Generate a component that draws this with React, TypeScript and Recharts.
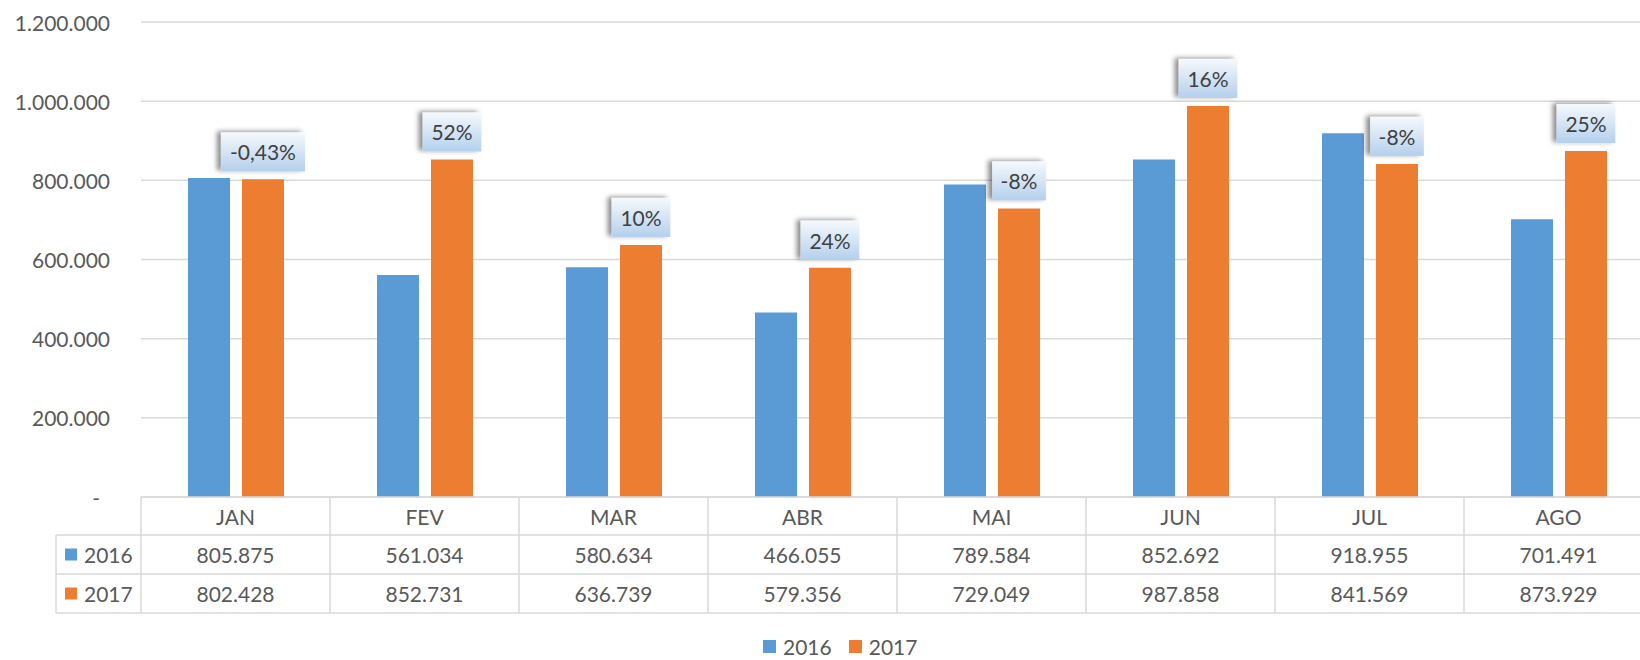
import { Bar, BarChart, CartesianGrid, LabelList, Legend, XAxis, YAxis } from "recharts"

const months = ["JAN", "FEV", "MAR", "ABR", "MAI", "JUN", "JUL", "AGO"]
const values2016 = [805875, 561034, 580634, 466055, 789584, 852692, 918955, 701491]
const values2017 = [802428, 852731, 636739, 579356, 729049, 987858, 841569, 873929]
const changeLabels = ["-0,43%", "52%", "10%", "24%", "-8%", "16%", "-8%", "25%"]
const yTicks = [0, 200000, 400000, 600000, 800000, 1000000, 1200000]

const data = months.map((m, i) => ({ name: m, y2016: values2016[i], y2017: values2017[i] }))

const BLUE = "#5b9bd5"
const ORANGE = "#ed7d31"
const TEXT = "#595959"
const LINE = "#d9d9d9"
const FONT = "Lato, 'Open Sans', sans-serif"
const FS = 21

const CHART_W = 1660
const CHART_H = 660
const MARGIN = { top: 22, right: 7, left: 0, bottom: 0 }
const Y_W = 141
const X_H = 116
const BAND = (CHART_W - MARGIN.right - MARGIN.left - Y_W) / months.length
const ROWS = [0, 38, 77, 116]
const HEADER_LEFT = 56

const fmt = (n: number) => n.toString().replace(/\B(?=(\d{3})+(?!\d))/g, ".")

// rough Calibri-like widths, used to size the callout boxes
const charW = (c: string) => (c === "%" ? 17.2 : c === "-" ? 7.3 : c === "," || c === "." ? 6 : 12.2)
const textW = (s: string) => s.split("").reduce((a, c) => a + charW(c), 0)

function YTick(props: any) {
  const { x, y, payload } = props
  const isZero = payload.value === 0
  return (
    <text
      x={isZero ? x - 10 : x}
      y={y}
      textAnchor="end"
      dominantBaseline="central"
      fontSize={FS}
      fontFamily={FONT}
      fill={TEXT}
    >
      {isZero ? "-" : fmt(payload.value)}
    </text>
  )
}

function TableTick(props: any) {
  const { x, y, payload } = props
  const i = payload.index
  const left = x - BAND / 2
  const right = x + BAND / 2
  const mid = (r: number) => y + (ROWS[r] + ROWS[r + 1]) / 2
  const txt = (tx: number, ty: number, s: string, anchor = "middle") => (
    <text
      x={tx}
      y={ty}
      textAnchor={anchor}
      dominantBaseline="central"
      fontSize={FS}
      fontFamily={FONT}
      fill={TEXT}
    >
      {s}
    </text>
  )
  return (
    <g>
      {ROWS.map((r) => (
        <line key={r} x1={left} x2={right} y1={y + r} y2={y + r} stroke={LINE} strokeWidth={1.5} />
      ))}
      <line x1={left} x2={left} y1={y} y2={y + X_H} stroke={LINE} strokeWidth={1.5} />
      {i === months.length - 1 && (
        <line x1={right} x2={right} y1={y} y2={y + X_H} stroke={LINE} strokeWidth={1.5} />
      )}
      {txt(x, mid(0), payload.value)}
      {txt(x, mid(1), fmt(values2016[i]))}
      {txt(x, mid(2), fmt(values2017[i]))}
      {i === 0 && (
        <g>
          {ROWS.slice(1).map((r) => (
            <line key={r} x1={HEADER_LEFT} x2={left} y1={y + r} y2={y + r} stroke={LINE} strokeWidth={1.5} />
          ))}
          <line x1={HEADER_LEFT} x2={HEADER_LEFT} y1={y + ROWS[1]} y2={y + X_H} stroke={LINE} strokeWidth={1.5} />
          <rect x={65} y={mid(1) - 6} width={12} height={12} fill={BLUE} />
          <rect x={65} y={mid(2) - 6} width={12} height={12} fill={ORANGE} />
          {txt(84, mid(1), "2016", "start")}
          {txt(84, mid(2), "2017", "start")}
        </g>
      )}
    </g>
  )
}

function ChangeLabel(props: any) {
  const { x, y, width, index } = props
  const s = changeLabels[index]
  const w = textW(s) + 17
  const h = 39
  const cx = x + width / 2
  const bottom = y - 8
  return (
    <g>
      <rect x={cx - w / 2} y={bottom - h} width={w} height={h} fill="url(#calloutFill)" filter="url(#calloutShadow)" />
      <text
        x={cx}
        y={bottom - h / 2}
        textAnchor="middle"
        dominantBaseline="central"
        fontSize={FS}
        fontFamily={FONT}
        fill="#404040"
      >
        {s}
      </text>
    </g>
  )
}

function LegendContent() {
  const item = (color: string, label: string, ml: number) => (
    <div style={{ display: "flex", alignItems: "center", marginLeft: ml }}>
      <div style={{ width: 13, height: 13, background: color, marginRight: 7 }} />
      <span style={{ fontSize: FS, fontFamily: FONT, color: TEXT }}>{label}</span>
    </div>
  )
  return (
    <div style={{ display: "flex", alignItems: "flex-end", height: 47, paddingBottom: 0, boxSizing: "border-box" }}>
      <div style={{ display: "flex", alignItems: "center", height: 28 }}>
        {item(BLUE, "2016", 763)}
        {item(ORANGE, "2017", 17)}
      </div>
    </div>
  )
}

export default function App() {
  return (
    <div style={{ position: "fixed", top: 0, left: 0, width: 1640, height: 660, overflow: "hidden", background: "#fff" }}>
      <BarChart width={CHART_W} height={CHART_H} data={data} margin={MARGIN} barSize={42} barGap={12}>
        <defs>
          <linearGradient id="calloutFill" x1="0" y1="0" x2="0" y2="1">
            <stop offset="0%" stopColor="#f5f9fd" />
            <stop offset="100%" stopColor="#b4d0ec" />
          </linearGradient>
          <filter id="calloutShadow" x="-30%" y="-30%" width="160%" height="160%">
            <feDropShadow dx={-4} dy={-1} stdDeviation={2.5} floodColor="#000" floodOpacity={0.45} />
          </filter>
        </defs>
        <CartesianGrid vertical={false} stroke={LINE} strokeWidth={1.5} />
        <YAxis
          width={Y_W}
          domain={[0, 1200000]}
          ticks={yTicks}
          axisLine={false}
          tickLine={false}
          tickSize={0}
          tickMargin={31}
          tick={<YTick />}
          interval={0}
        />
        <XAxis
          dataKey="name"
          height={X_H}
          axisLine={false}
          tickLine={false}
          tickSize={0}
          tickMargin={0}
          tick={<TableTick />}
          interval={0}
        />
        <Legend verticalAlign="bottom" height={47} content={<LegendContent />} wrapperStyle={{ left: 0, width: 1640 }} />
        <Bar dataKey="y2016" name="2016" fill={BLUE} isAnimationActive={false} />
        <Bar dataKey="y2017" name="2017" fill={ORANGE} isAnimationActive={false}>
          <LabelList dataKey="y2017" content={<ChangeLabel />} />
        </Bar>
      </BarChart>
    </div>
  )
}
